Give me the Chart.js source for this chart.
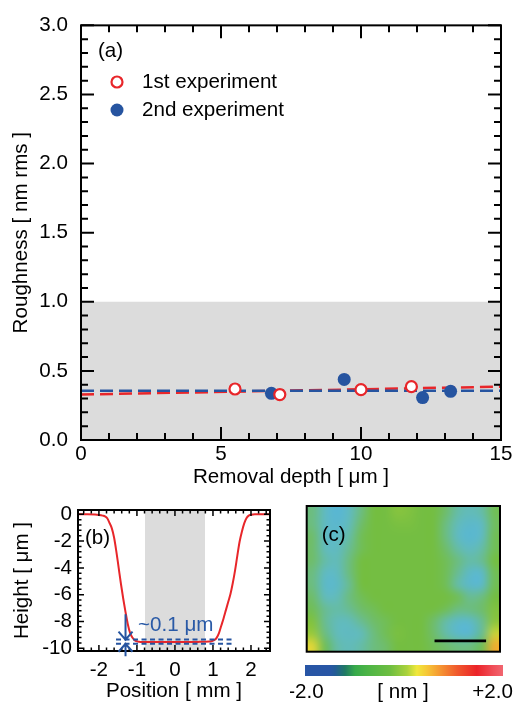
<!DOCTYPE html>
<html><head><meta charset="utf-8">
<script src="https://cdn.jsdelivr.net/npm/chart.js@4/dist/chart.umd.min.js"></script>
<style>
html,body{margin:0;padding:0;background:#fff;width:516px;height:706px;overflow:hidden}
.c{position:absolute}
canvas{display:block}
</style></head><body>
<div class="c" style="left:0;top:0;width:516px;height:490px"><canvas id="ca" width="516" height="490"></canvas></div>
<div class="c" style="left:0;top:490px;width:290px;height:216px"><canvas id="cb" width="290" height="216"></canvas></div>
<div class="c" style="left:290px;top:490px;width:226px;height:170px"><canvas id="cc" width="226" height="170"></canvas></div>
<div class="c" style="left:290px;top:655px;width:226px;height:51px"><canvas id="cd" width="226" height="51"></canvas></div>
<script>
// ---------- Panel (a) data ----------
const depth1 = [5.5, 7.1, 10.0, 11.8];
const rough1 = [0.369, 0.329, 0.364, 0.386];
const depth2 = [6.8, 9.4, 12.2, 13.2];
const rough2 = [0.338, 0.438, 0.307, 0.352];
const fitDepth = [0, 15];
const fitRough1 = [0.329, 0.386];
const fitRough2 = [0.357, 0.357];
const bandRough = 1.0;
const depthTicks = [0, 5, 10, 15];
const roughTicks = [0, 0.5, 1.0, 1.5, 2.0, 2.5, 3.0];

// ---------- Panel (b) data ----------
const profX = [-2.55,-2.3,-2.1,-2.0,-1.9,-1.84,-1.78,-1.72,-1.66,-1.6,-1.54,-1.48,-1.42,-1.36,-1.3,-1.24,-1.18,-1.12,-1.06,-1.0,-0.9,-0.6,-0.2,0.2,0.6,0.9,0.98,1.04,1.1,1.16,1.22,1.28,1.34,1.4,1.46,1.52,1.58,1.64,1.7,1.76,1.82,1.88,1.94,2.0,2.1,2.3,2.5];
const profY = [0,0,-0.02,-0.05,-0.1,-0.15,-0.3,-0.65,-1.05,-1.75,-2.8,-4.0,-5.2,-6.3,-7.3,-8.2,-8.85,-9.2,-9.4,-9.48,-9.52,-9.52,-9.53,-9.53,-9.52,-9.5,-9.45,-9.38,-9.2,-8.85,-8.3,-7.75,-7.15,-6.55,-5.95,-5.15,-4.2,-3.1,-2.05,-1.3,-0.7,-0.3,-0.1,-0.03,0,0,0];
const posTicks = [-2, -1, 0, 1, 2];
const heightTicks = [0, -2, -4, -6, -8, -10];
const posRange = [-2.55, 2.5];
const heightRange = [-10.2, 0.32];
const bandPos = [-0.79, 0.79];
const levelPos = [-1.55, 1.55];
const levelUpper = -9.35;
const levelLower = -9.66;
const arrowPos = -1.3;
const arrowDown = [-7.45, -9.35];
const arrowUp = [-10.6, -9.66];

// ---------- Panel (c) data ----------
const mapWidth = 3.75;   // image extent (scale-bar units)
const mapHeight = 2.82;
const scaleBarX = [2.48, 3.48];
const scaleBarY = 0.21;
const heatGrid = [
 [-0.3,-0.7,-1.0,-0.7,-0.3, 0.0, 0.0, 0.15, 0.1, 0.0, 0.0,-0.2,-0.5,-0.6,-0.5,-0.1],
 [-0.3,-0.7,-0.9,-0.6,-0.2, 0.0, 0.0, 0.05, 0.05,0.0, 0.0,-0.3,-0.6,-0.85,-0.7,-0.15],
 [-0.2,-0.7,-0.8,-0.5,-0.1, 0.0, 0.0, 0.0, 0.0, 0.0, 0.0,-0.3,-0.7,-0.95,-0.7,-0.1],
 [-0.2,-0.6,-0.7,-0.4,-0.1, 0.0, 0.0, 0.0, 0.0, 0.0, 0.0,-0.2,-0.5,-0.7,-0.5,-0.1],
 [-0.2,-0.5,-0.6,-0.3, 0.0, 0.0, 0.0, 0.0, 0.0, 0.0, 0.0,-0.1,-0.3,-0.5,-0.4, 0.0],
 [-0.3,-0.7,-0.7,-0.3, 0.0, 0.0, 0.0, 0.0, 0.0, 0.0, 0.0,-0.1,-0.4,-0.8,-0.8,-0.1],
 [-0.3,-0.8,-0.8,-0.4, 0.0, 0.0, 0.0, 0.0, 0.0, 0.0, 0.0,-0.1,-0.5,-0.85,-0.8,-0.1],
 [-0.2,-0.6,-0.6,-0.3,-0.1, 0.0, 0.0, 0.0, 0.0, 0.0, 0.0, 0.0,-0.1,-0.4,-0.3, 0.0],
 [-0.1,-0.4,-0.5,-0.4,-0.2,-0.1, 0.0, 0.0, 0.0, 0.0, 0.0,-0.1,-0.3,-0.3,-0.2, 0.1],
 [ 0.1,-0.4,-0.6,-0.6,-0.4,-0.2,-0.1, 0.0, 0.0, 0.0,-0.2,-0.5,-0.8,-0.8,-0.4, 0.2],
 [ 0.3,-0.3,-0.6,-0.7,-0.6,-0.3,-0.1, 0.05,0.0, 0.0,-0.2,-0.5,-0.85,-0.9,-0.4, 0.5],
 [ 0.6,-0.1,-0.5,-0.6,-0.5,-0.3,-0.2, 0.0, 0.0, 0.0,-0.1,-0.2,-0.3,-0.3,-0.1, 0.9]
];
const imgStops = [[-1.0,[88,182,212]],[-0.6,[98,187,186]],[-0.3,[108,189,128]],[0.0,[116,190,66]],[0.3,[152,201,60]],[0.6,[222,214,56]],[1.0,[242,160,45]]];
const cbarRange = [-2, 2];
const cbarStops = [[-2.0,[40,85,165]],[-1.5,[40,86,165]],[-1.39,[35,92,150]],[-1.19,[32,122,100]],[-0.99,[55,170,75]],[-0.75,[75,180,70]],[-0.28,[110,190,65]],[0.06,[170,210,60]],[0.26,[240,232,60]],[0.46,[246,200,55]],[0.73,[245,150,50]],[1.07,[240,90,45]],[1.47,[235,35,40]],[1.81,[240,80,90]],[2.0,[241,102,112]]];
const cbarLabels = ['-2.0', '[ nm ]', '+2.0'];

// ---------- style ----------
const RED = '#e8262a', BLUE = '#2654a0', TXTBLUE = '#2a5aa6', GRAY = '#dcdcdc';
const FAM = '"Liberation Sans", Arial, Helvetica, sans-serif';
const FS = 20.6;
Chart.defaults.font.family = FAM;
Chart.defaults.font.size = FS;
Chart.defaults.color = '#000';
const font = {family: FAM, size: FS};

function range(a, b, step) { const r = []; for (let v = a; v <= b + 1e-9; v += step) r.push(+v.toFixed(6)); return r; }
function lerpColor(stops, v) {
  if (v <= stops[0][0]) return stops[0][1];
  for (let i = 1; i < stops.length; i++) {
    if (v <= stops[i][0]) {
      const [a, ca] = stops[i-1], [b, cb] = stops[i]; const t = (v - a) / (b - a);
      return ca.map((c, k) => Math.round(c + (cb[k] - c) * t));
    }
  }
  return stops[stops.length-1][1];
}

// ---------- plugins ----------
const frameTicks = {
  id: 'frameTicks',
  afterDatasetsDraw(chart, args, o) {
    if (!o || !o.on) return;
    const {ctx, chartArea: a, scales: {x, y}} = chart;
    ctx.save();
    ctx.strokeStyle = '#000'; ctx.lineWidth = o.tickWidth; ctx.lineCap = 'butt';
    ctx.beginPath();
    const tx = (vals, len) => vals.forEach(v => { const p = x.getPixelForValue(v);
      ctx.moveTo(p, a.bottom); ctx.lineTo(p, a.bottom - len); ctx.moveTo(p, a.top); ctx.lineTo(p, a.top + len); });
    const ty = (vals, len) => vals.forEach(v => { const p = y.getPixelForValue(v);
      ctx.moveTo(a.left, p); ctx.lineTo(a.left + len, p); ctx.moveTo(a.right, p); ctx.lineTo(a.right - len, p); });
    tx(o.xMinor, o.minorLen); ty(o.yMinor, o.minorLen);
    tx(o.xMajor, o.majorLen); ty(o.yMajor, o.majorLen);
    ctx.stroke();
    ctx.lineWidth = o.frameWidth;
    ctx.strokeRect(a.left, a.top, a.right - a.left, a.bottom - a.top);
    ctx.restore();
  }
};
const notes = {
  id: 'notes',
  afterDraw(chart, args, o) {
    if (!o || !o.items) return;
    const {ctx} = chart;
    ctx.save();
    o.items.forEach(it => {
      ctx.font = `${it.size || FS}px ${FAM}`;
      ctx.fillStyle = it.color || '#000';
      ctx.textAlign = it.align || 'left';
      ctx.textBaseline = 'middle';
      ctx.fillText(it.text, it.x, it.y);
    });
    (o.legend || []).forEach(it => {
      const ds = chart.data.datasets[it.ds];
      ctx.beginPath();
      ctx.arc(it.x, it.y, ds.pointRadius, 0, Math.PI * 2);
      ctx.fillStyle = ds.pointBackgroundColor; ctx.fill();
      if (ds.pointBorderWidth) { ctx.lineWidth = ds.pointBorderWidth; ctx.strokeStyle = ds.pointBorderColor; ctx.stroke(); }
      ctx.font = `${FS}px ${FAM}`; ctx.fillStyle = '#000'; ctx.textAlign = 'left'; ctx.textBaseline = 'middle';
      ctx.fillText(ds.label, it.x + it.gap, it.y);
    });
    ctx.restore();
  }
};
const arrows = {
  id: 'arrows',
  afterDraw(chart, args, o) {
    if (!o || !o.items) return;
    const {ctx, scales: {x, y}} = chart;
    ctx.save(); ctx.strokeStyle = o.color; ctx.lineWidth = o.width;
    o.items.forEach(a => {
      const px = x.getPixelForValue(a.x), p0 = y.getPixelForValue(a.from), p1 = y.getPixelForValue(a.to);
      const dir = Math.sign(p1 - p0);
      ctx.beginPath(); ctx.moveTo(px, p0); ctx.lineTo(px, p1);
      ctx.moveTo(px - o.head, p1 - dir * o.headLen); ctx.lineTo(px, p1); ctx.lineTo(px + o.head, p1 - dir * o.headLen);
      ctx.stroke();
    });
    ctx.restore();
  }
};
const heatmap = {
  id: 'heatmap',
  beforeDatasetsDraw(chart, args, o) {
    if (!o || !o.on) return;
    const {ctx, scales: {x, y}} = chart;
    const rows = heatGrid.length, cols = heatGrid[0].length;
    const off = document.createElement('canvas'); off.width = cols; off.height = rows;
    const octx = off.getContext('2d'); const img = octx.createImageData(cols, rows);
    heatGrid.forEach((row, r) => row.forEach((v, c) => {
      const col = lerpColor(imgStops, v); const k = (r * cols + c) * 4;
      img.data[k] = col[0]; img.data[k+1] = col[1]; img.data[k+2] = col[2]; img.data[k+3] = 255;
    }));
    octx.putImageData(img, 0, 0);
    const x0 = x.getPixelForValue(0), x1 = x.getPixelForValue(mapWidth);
    const y0 = y.getPixelForValue(mapHeight), y1 = y.getPixelForValue(0);
    ctx.save(); ctx.imageSmoothingEnabled = true; ctx.imageSmoothingQuality = 'high';
    ctx.drawImage(off, x0, y0, x1 - x0, y1 - y0);
    ctx.restore();
  },
  afterDraw(chart, args, o) {
    if (!o || !o.on) return;
    const {ctx, chartArea: a} = chart;
    ctx.save(); ctx.strokeStyle = '#000'; ctx.lineWidth = 2;
    ctx.strokeRect(a.left, a.top, a.right - a.left, a.bottom - a.top);
    ctx.restore();
  }
};
const colorbar = {
  id: 'colorbar',
  beforeDatasetsDraw(chart, args, o) {
    if (!o || !o.on) return;
    const {ctx, chartArea: a, scales: {x}} = chart;
    const g0 = x.getPixelForValue(cbarRange[0]), g1 = x.getPixelForValue(cbarRange[1]);
    const g = ctx.createLinearGradient(g0, 0, g1, 0);
    cbarStops.forEach(([v, c]) => g.addColorStop((v - cbarRange[0]) / (cbarRange[1] - cbarRange[0]), `rgb(${c[0]},${c[1]},${c[2]})`));
    ctx.save(); ctx.fillStyle = g; ctx.fillRect(g0, a.top, g1 - g0, a.bottom - a.top);
    ctx.font = `${FS}px ${FAM}`; ctx.fillStyle = '#000'; ctx.textBaseline = 'middle';
    ctx.textAlign = 'center'; ctx.fillText(cbarLabels[0], g0 + 1, o.labelY);
    ctx.fillText(cbarLabels[1], x.getPixelForValue(0) - 1, o.labelY);
    ctx.textAlign = 'right'; ctx.fillText(cbarLabels[2], g1 + 10, o.labelY);
    ctx.restore();
  }
};
Chart.register(frameTicks, notes, arrows, heatmap, colorbar);

const pts = (xs, ys) => xs.map((x, i) => ({x, y: ys[i]}));
const base = {responsive: false, animation: false, events: []};

// ---------- Chart (a) ----------
new Chart(document.getElementById('ca'), {
  type: 'scatter',
  data: {datasets: [
    {label: '1st experiment', data: pts(depth1, rough1), pointRadius: 5.5, pointBackgroundColor: '#fff', pointBorderColor: RED, pointBorderWidth: 2.2, showLine: false, order: 0},
    {label: '2nd experiment', data: pts(depth2, rough2), pointRadius: 6.5, pointBackgroundColor: BLUE, pointBorderColor: BLUE, pointBorderWidth: 0, showLine: false, order: 1},
    {label: 'fit 1', data: pts(fitDepth, fitRough1), showLine: true, borderColor: RED, borderWidth: 2.5, borderDash: [13, 6], pointRadius: 0, order: 3},
    {label: 'fit 2', data: pts(fitDepth, fitRough2), showLine: true, borderColor: BLUE, borderWidth: 2.5, borderDash: [13, 6], pointRadius: 0, order: 2},
    {label: 'band', data: pts(fitDepth, [bandRough, bandRough]), showLine: true, borderWidth: 0, pointRadius: 0, fill: 'origin', backgroundColor: GRAY, order: 10}
  ]},
  options: {...base,
    layout: {padding: {top: 20, right: 15, left: 0, bottom: 0}},
    plugins: {legend: {display: false}, tooltip: {enabled: false},
      frameTicks: {on: true, xMajor: depthTicks, xMinor: range(0, 15, 1), yMajor: roughTicks, yMinor: range(0, 3, 0.1), majorLen: 13, minorLen: 7, tickWidth: 2, frameWidth: 2},
      notes: {items: [{text: '(a)', x: 98, y: 51}], legend: [{ds: 0, x: 117, y: 82, gap: 25}, {ds: 1, x: 117, y: 110, gap: 25}]}
    },
    scales: {
      x: {type: 'linear', min: 0, max: 15,
        afterBuildTicks: s => { s.ticks = depthTicks.map(v => ({value: v})); },
        afterFit: s => { s.height = 50; },
        ticks: {font, color: '#000', padding: 2, maxRotation: 0, autoSkip: false, callback: v => String(v)},
        grid: {display: false, drawTicks: false}, border: {display: false},
        title: {display: true, text: 'Removal depth [ μm ]', font, color: '#000', padding: {top: 0, bottom: 0}}},
      y: {type: 'linear', min: 0, max: 3,
        afterBuildTicks: s => { s.ticks = roughTicks.map(v => ({value: v})); },
        afterFit: s => { s.width = 81; },
        ticks: {font, color: '#000', padding: 13, autoSkip: false, callback: v => v.toFixed(1)},
        grid: {display: false, drawTicks: false}, border: {display: false},
        title: {display: true, text: 'Roughness [ nm rms ]', font, color: '#000', padding: {top: 9, bottom: 0}}}
    }
  }
});

// ---------- Chart (b) ----------
new Chart(document.getElementById('cb'), {
  type: 'scatter',
  data: {datasets: [
    {label: 'profile', data: pts(profX, profY), showLine: true, borderColor: RED, borderWidth: 2, pointRadius: 0, cubicInterpolationMode: 'monotone', order: 1},
    {label: 'upper level', data: pts(levelPos, [levelUpper, levelUpper]), showLine: true, borderColor: BLUE, borderWidth: 2, borderDash: [5, 3.5], pointRadius: 0, order: 0},
    {label: 'lower level', data: pts(levelPos, [levelLower, levelLower]), showLine: true, borderColor: BLUE, borderWidth: 2, borderDash: [5, 3.5], pointRadius: 0, order: 0},
    {label: 'band', data: pts(bandPos, [heightRange[1], heightRange[1]]), showLine: true, borderWidth: 0, pointRadius: 0, fill: {value: heightRange[0]}, backgroundColor: GRAY, order: 10}
  ]},
  options: {...base,
    layout: {padding: {top: 20, right: 20, left: 0, bottom: 0}},
    plugins: {legend: {display: false}, tooltip: {enabled: false},
      frameTicks: {on: true, xMajor: posTicks, xMinor: range(-2.4, 2.4, 0.2), yMajor: heightTicks, yMinor: range(-10, 0, 0.4), majorLen: 6, minorLen: 3.5, tickWidth: 1.5, frameWidth: 2},
      notes: {items: [{text: '(b)', x: 85, y: 48}, {text: '~0.1 μm', x: 138, y: 135, color: TXTBLUE}]},
      arrows: {color: BLUE, width: 2, head: 7, headLen: 8, items: [{x: arrowPos, from: arrowDown[0], to: arrowDown[1]}, {x: arrowPos, from: arrowUp[0], to: arrowUp[1]}]}
    },
    scales: {
      x: {type: 'linear', min: posRange[0], max: posRange[1],
        afterBuildTicks: s => { s.ticks = posTicks.map(v => ({value: v})); },
        afterFit: s => { s.height = 55; },
        ticks: {font, color: '#000', padding: 7, maxRotation: 0, autoSkip: false, callback: v => String(v)},
        grid: {display: false, drawTicks: false}, border: {display: false},
        title: {display: true, text: 'Position [ mm ]', font, color: '#000', padding: {top: 0, bottom: 2}}},
      y: {type: 'linear', min: heightRange[0], max: heightRange[1],
        afterBuildTicks: s => { s.ticks = heightTicks.map(v => ({value: v})); },
        afterFit: s => { s.width = 78; },
        ticks: {font, color: '#000', padding: 6, autoSkip: false, callback: v => String(v)},
        grid: {display: false, drawTicks: false}, border: {display: false},
        title: {display: true, text: 'Height [ μm ]', font, color: '#000', padding: {top: 10, bottom: 0}}}
    }
  }
});

// ---------- Chart (c) ----------
new Chart(document.getElementById('cc'), {
  type: 'scatter',
  data: {datasets: [
    {label: 'scale bar', data: pts(scaleBarX, [scaleBarY, scaleBarY]), showLine: true, borderColor: '#000', borderWidth: 2.7, pointRadius: 0}
  ]},
  options: {...base,
    layout: {padding: {left: 16.7, right: 16, top: 16, bottom: 8.3}},
    plugins: {legend: {display: false}, tooltip: {enabled: false},
      heatmap: {on: true},
      notes: {items: [{text: '(c)', x: 31.7, y: 45}]}
    },
    scales: {
      x: {type: 'linear', min: 0, max: mapWidth, display: false},
      y: {type: 'linear', min: 0, max: mapHeight, display: false}
    }
  }
});

// ---------- Colour bar ----------
new Chart(document.getElementById('cd'), {
  type: 'scatter',
  data: {datasets: []},
  options: {...base,
    layout: {padding: {left: 15, right: 13, top: 10, bottom: 30}},
    plugins: {legend: {display: false}, tooltip: {enabled: false}, colorbar: {on: true, labelY: 37.5}},
    scales: {
      x: {type: 'linear', min: cbarRange[0], max: cbarRange[1], display: false},
      y: {type: 'linear', min: 0, max: 1, display: false}
    }
  }
});
</script>
</body></html>
